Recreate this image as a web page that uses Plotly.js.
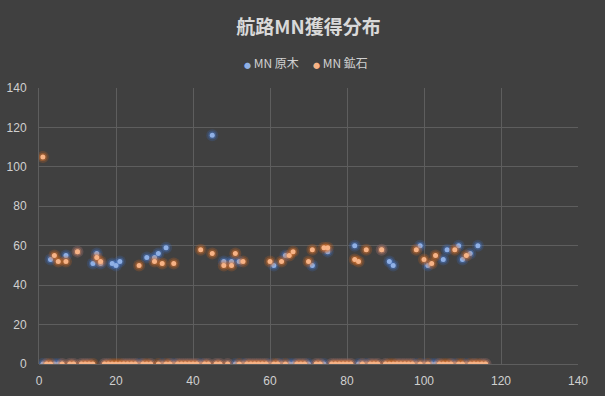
<!DOCTYPE html>
<html>
<head>
<meta charset="utf-8">
<script src="https://cdn.plot.ly/plotly-3.0.1.min.js"></script>
<style>html,body{margin:0;padding:0;background:#404040;}#chart{width:605px;height:396px;}</style>
</head>
<body>
<div id="chart"></div>
<script>
// voyage index
const voyages = [];
for (let i = 1; i <= 116; i++) voyages.push(i);

// MN 原木 (blue) — nonzero values, keyed by voyage
const woodX = [3, 7, 10, 14, 15, 16, 19, 20, 21, 28, 30, 31, 33, 45, 48, 50, 52, 61, 64, 71, 75, 82, 89, 91, 92, 99, 101, 105, 106, 109, 110, 112, 114];
const woodY = [53, 55, 57, 51, 56, 51, 51, 50, 52, 54, 54, 56, 59, 116, 52, 52, 52, 50, 55, 50, 57, 60, 58, 52, 50, 60, 50, 53, 58, 60, 53, 56, 60];

// MN 鉱石 (orange)
const oreX = [1, 4, 5, 7, 10, 15, 16, 26, 30, 32, 35, 42, 45, 48, 50, 51, 53, 60, 63, 65, 66, 70, 71, 74, 75, 82, 83, 85, 89, 98, 100, 102, 103, 108, 111];
const oreY = [105, 55, 52, 52, 57, 54, 52, 50, 52, 51, 51, 58, 56, 50, 50, 56, 52, 52, 52, 55, 57, 52, 58, 59, 59, 53, 52, 58, 58, 58, 53, 51, 55, 58, 55];

const seriesNames = ["MN 原木", "MN 鉱石"];
const seriesColors = ["#8fb0e6", "#f7b386"];
const xTicks = [0, 20, 40, 60, 80, 100, 120, 140];
const yTicks = [0, 20, 40, 60, 80, 100, 120, 140];

function fullSeries(xs, ys) {
  const out = voyages.map(() => 0);
  xs.forEach((x, i) => { out[x - 1] = ys[i]; });
  return out;
}
const wood = fullSeries(woodX, woodY);
const ore = fullSeries(oreX, oreY);

function glow(y, color, size, op) {
  return {x: voyages, y: y, type: "scatter", mode: "markers", showlegend: false, hoverinfo: "skip",
    marker: {size: size, color: color, opacity: op, line: {width: 0}}};
}
const traces = [
  glow(wood, "#3a6fc4", 12, 0.22),
  glow(wood, "#4a7fd4", 8, 0.35),
  {x: voyages, y: wood, name: seriesNames[0], type: "scatter", mode: "markers", showlegend: false,
    marker: {size: 5, color: seriesColors[0], line: {width: 0}}},
  glow(ore, "#d9691c", 12, 0.22),
  glow(ore, "#e8792c", 8, 0.35),
  {x: voyages, y: ore, name: seriesNames[1], type: "scatter", mode: "markers", showlegend: false,
    marker: {size: 5, color: seriesColors[1], line: {width: 0}}}
];

const tickFont = {family: "Liberation Sans, Arial, sans-serif", size: 12, color: "#d0d0d0"};
const legFont = {family: "Noto Sans CJK JP, sans-serif", size: 12, color: "#d0d0d0"};
function legendItem(i, xPaper) {
  return {xref: "paper", yref: "paper", x: xPaper, y: 1.094, xanchor: "left", yanchor: "middle",
    showarrow: false, font: legFont,
    text: '<span style="color:' + seriesColors[i] + ';font-size:7px">●</span> ' + seriesNames[i]};
}
const layout = {
  width: 605, height: 396,
  paper_bgcolor: "#404040", plot_bgcolor: "#404040",
  margin: {l: 39, r: 27, t: 88, b: 32},
  title: {text: "<b>航路MN獲得分布</b>", x: 0.5, xanchor: "center", xref: "paper",
    y: 1 - 27 / 396, yanchor: "middle", yref: "container",
    font: {family: "Noto Sans CJK JP, sans-serif", size: 19, color: "#d9d9d9"}},
  showlegend: false,
  annotations: [legendItem(0, (242 - 39) / 539), legendItem(1, (311 - 39) / 539)],
  xaxis: {range: [0, 140], tickvals: xTicks, ticktext: xTicks.map(String), showgrid: true,
    gridcolor: "#5e5e5e", gridwidth: 1, zeroline: false, showline: false, ticks: "",
    ticklabelstandoff: 8, tickfont: tickFont, fixedrange: true},
  yaxis: {range: [0, 140], tickvals: yTicks, ticktext: yTicks.map(String), showgrid: true,
    gridcolor: "#5e5e5e", gridwidth: 1, zeroline: true, zerolinecolor: "#5e5e5e", showline: true, linecolor: "#5e5e5e",
    ticks: "", ticklabelstandoff: 9, tickfont: tickFont, fixedrange: true}
};
Plotly.newPlot("chart", traces, layout, {displayModeBar: false, staticPlot: true});
</script>
</body>
</html>
